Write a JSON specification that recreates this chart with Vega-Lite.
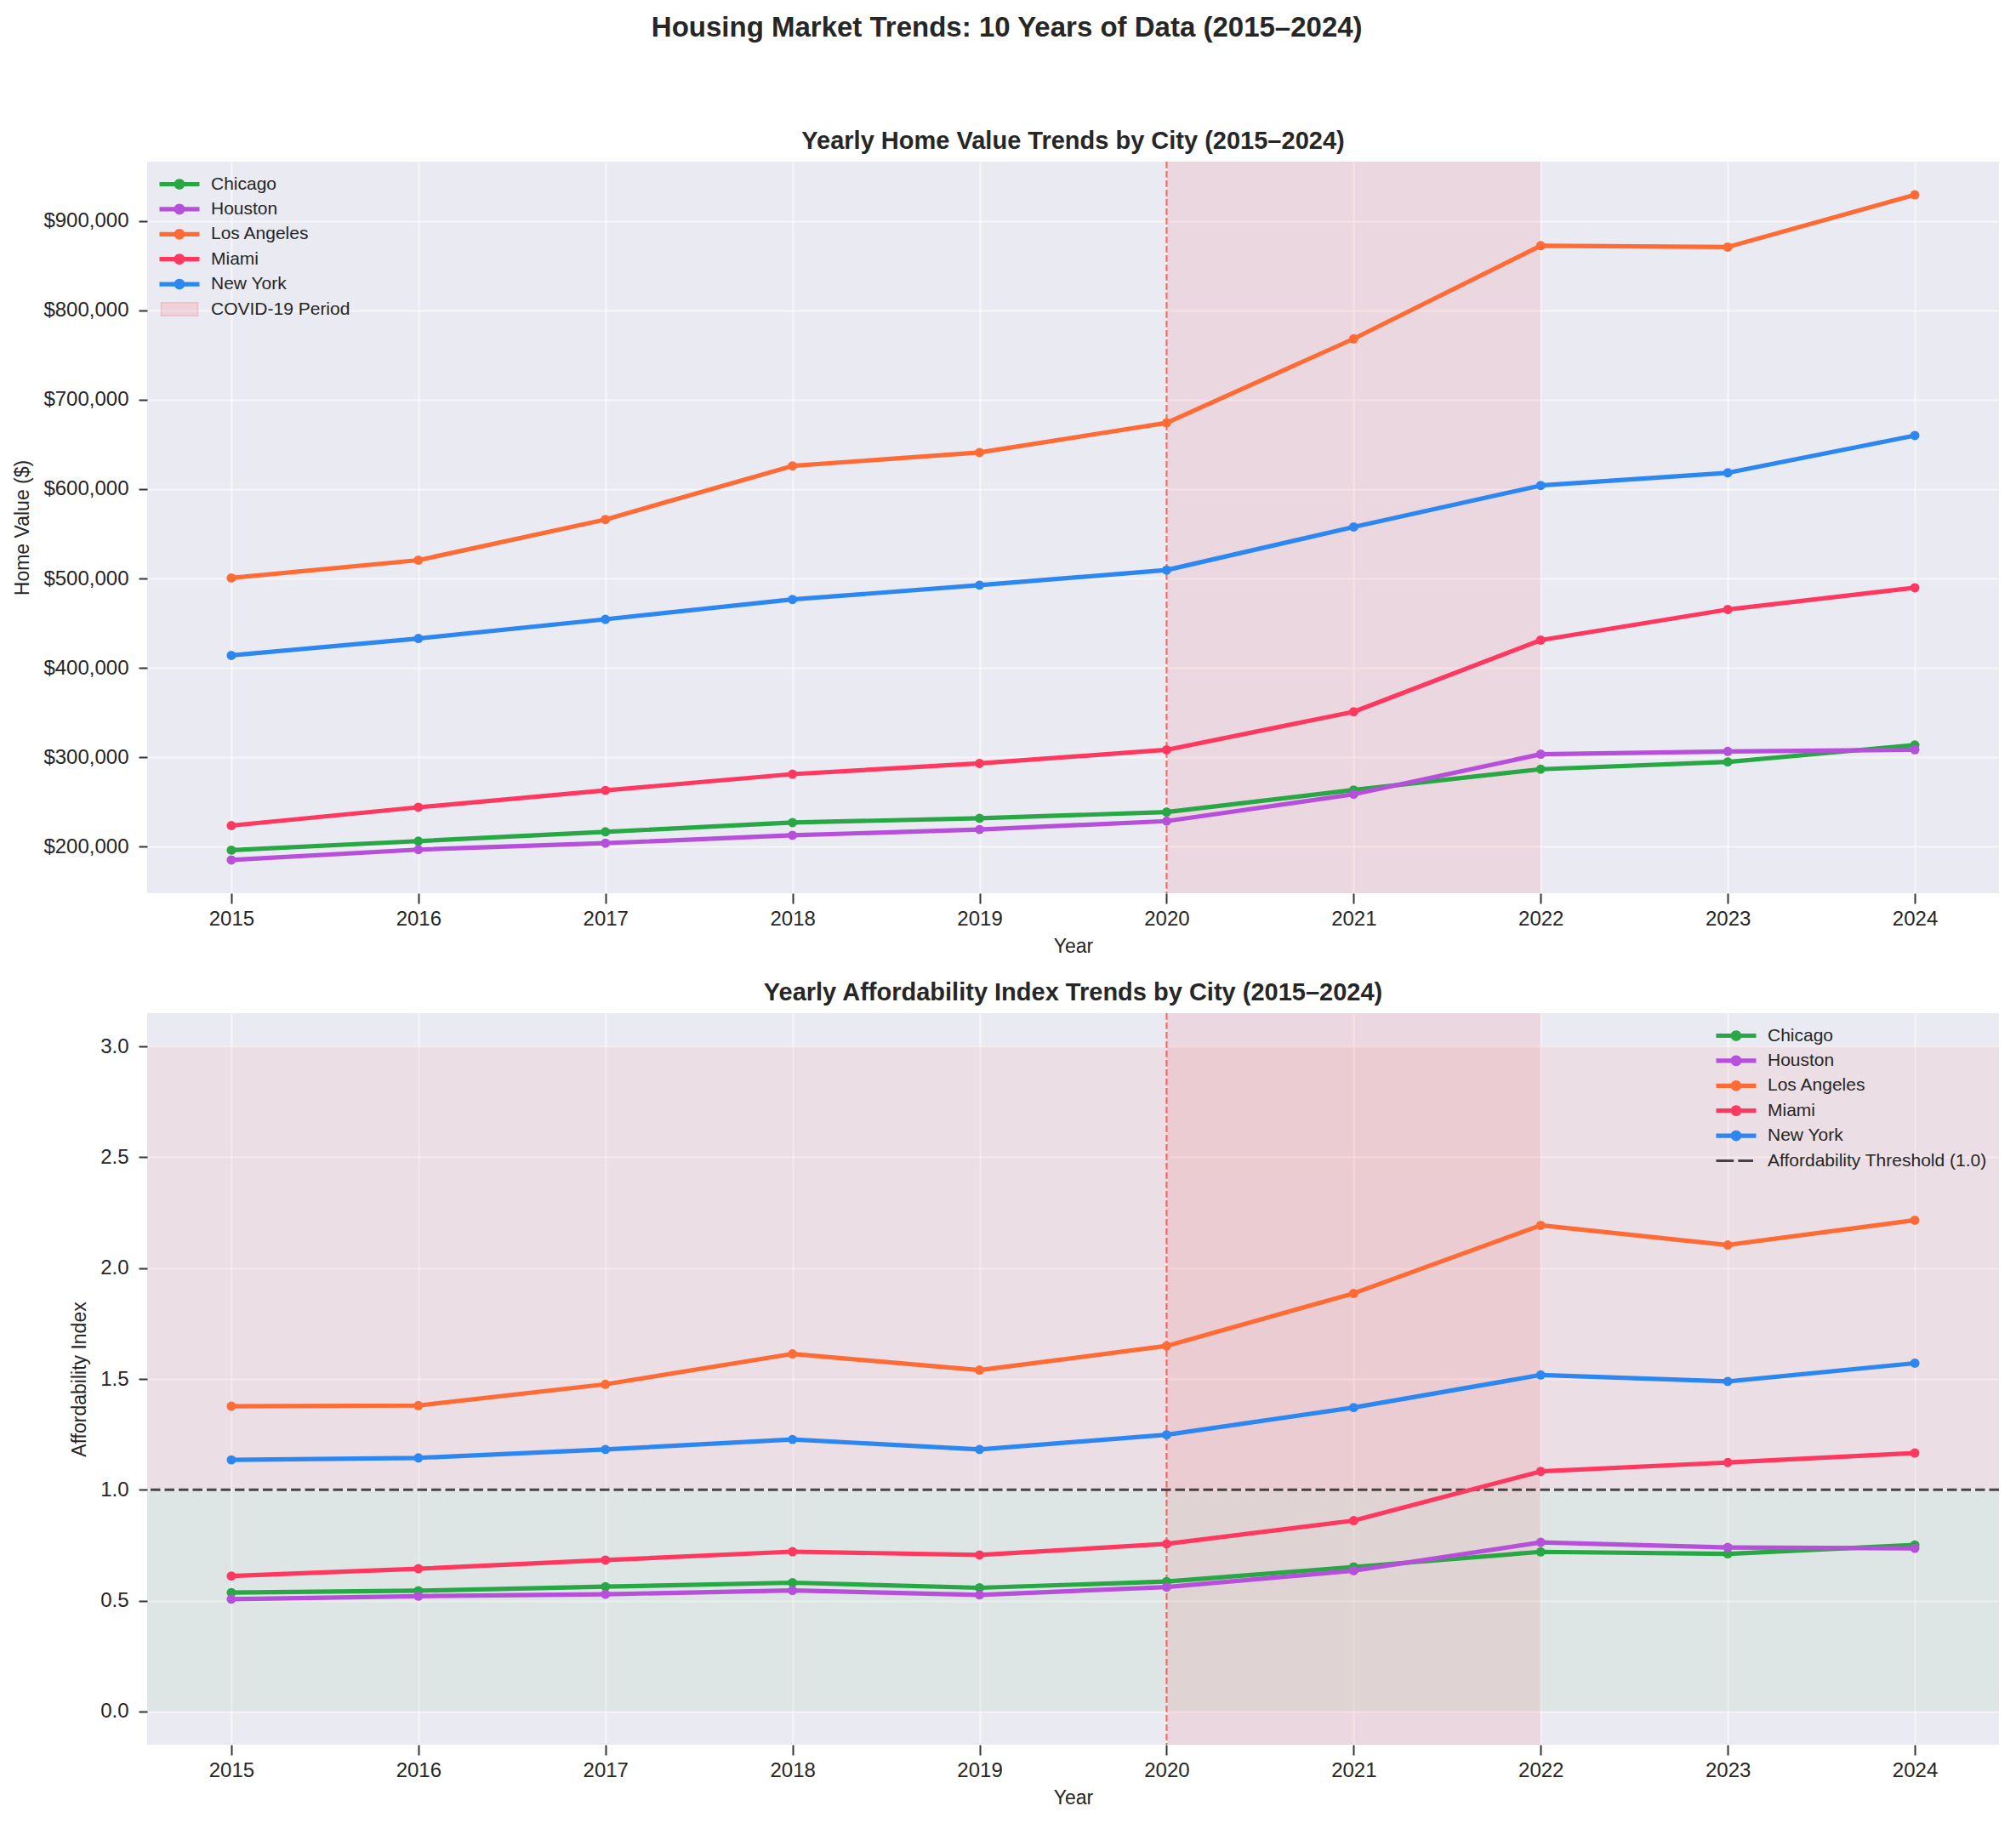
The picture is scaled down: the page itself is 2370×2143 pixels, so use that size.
{
  "$schema": "https://vega.github.io/schema/vega-lite/v6.json",
  "padding": {"left": 15, "top": 17, "right": 18, "bottom": 10},
  "background": "white",
  "title": {"text": "Housing Market Trends: 10 Years of Data (2015–2024)", "fontSize": 33, "fontWeight": "bold", "font": "Liberation Sans", "color": "#262626", "anchor": "middle", "offset": 101.6},
  "config": {
    "font": "Liberation Sans",
    "view": {"fill": "#EAEAF2", "stroke": null},
    "axis": {"domain": false, "gridColor": "#FFFFFF", "gridWidth": 2, "gridOpacity": 0.55, "tickColor": "#333333", "tickWidth": 2, "tickSize": 10, "labelFont": "Liberation Sans", "labelFontSize": 24, "labelColor": "#262626", "titleFont": "Liberation Sans", "titleFontSize": 23, "titleFontWeight": "normal", "titleColor": "#262626"},
    "axisX": {"tickSize": 12, "labelPadding": 6, "titlePadding": 9},
    "axisY": {"labelPadding": 12, "titlePadding": 12},
    "legend": {"labelFont": "Liberation Sans", "labelFontSize": 21, "labelColor": "#262626", "labelLimit": 1000}
  },
  "datasets": {
    "d": [
      {"year": 2015, "city": "Chicago", "value": 195900, "afford": 0.536},
      {"year": 2016, "city": "Chicago", "value": 206000, "afford": 0.545},
      {"year": 2017, "city": "Chicago", "value": 216400, "afford": 0.563},
      {"year": 2018, "city": "Chicago", "value": 226800, "afford": 0.581},
      {"year": 2019, "city": "Chicago", "value": 231600, "afford": 0.558},
      {"year": 2020, "city": "Chicago", "value": 238500, "afford": 0.586},
      {"year": 2021, "city": "Chicago", "value": 263200, "afford": 0.652},
      {"year": 2022, "city": "Chicago", "value": 286500, "afford": 0.720},
      {"year": 2023, "city": "Chicago", "value": 294700, "afford": 0.711},
      {"year": 2024, "city": "Chicago", "value": 313600, "afford": 0.751},
      {"year": 2015, "city": "Houston", "value": 184900, "afford": 0.507},
      {"year": 2016, "city": "Houston", "value": 196500, "afford": 0.520},
      {"year": 2017, "city": "Houston", "value": 203700, "afford": 0.529},
      {"year": 2018, "city": "Houston", "value": 212500, "afford": 0.546},
      {"year": 2019, "city": "Houston", "value": 219000, "afford": 0.526},
      {"year": 2020, "city": "Houston", "value": 228400, "afford": 0.561},
      {"year": 2021, "city": "Houston", "value": 258400, "afford": 0.635},
      {"year": 2022, "city": "Houston", "value": 303300, "afford": 0.763},
      {"year": 2023, "city": "Houston", "value": 306400, "afford": 0.740},
      {"year": 2024, "city": "Houston", "value": 308300, "afford": 0.736},
      {"year": 2015, "city": "Los Angeles", "value": 500600, "afford": 1.377},
      {"year": 2016, "city": "Los Angeles", "value": 520500, "afford": 1.380},
      {"year": 2017, "city": "Los Angeles", "value": 566000, "afford": 1.476},
      {"year": 2018, "city": "Los Angeles", "value": 626000, "afford": 1.613},
      {"year": 2019, "city": "Los Angeles", "value": 641000, "afford": 1.540},
      {"year": 2020, "city": "Los Angeles", "value": 674200, "afford": 1.649},
      {"year": 2021, "city": "Los Angeles", "value": 768300, "afford": 1.886},
      {"year": 2022, "city": "Los Angeles", "value": 872500, "afford": 2.193},
      {"year": 2023, "city": "Los Angeles", "value": 871000, "afford": 2.104},
      {"year": 2024, "city": "Los Angeles", "value": 929400, "afford": 2.216},
      {"year": 2015, "city": "Miami", "value": 223400, "afford": 0.611},
      {"year": 2016, "city": "Miami", "value": 243900, "afford": 0.644},
      {"year": 2017, "city": "Miami", "value": 262800, "afford": 0.683},
      {"year": 2018, "city": "Miami", "value": 281000, "afford": 0.721},
      {"year": 2019, "city": "Miami", "value": 293000, "afford": 0.706},
      {"year": 2020, "city": "Miami", "value": 308200, "afford": 0.756},
      {"year": 2021, "city": "Miami", "value": 350800, "afford": 0.861},
      {"year": 2022, "city": "Miami", "value": 431000, "afford": 1.083},
      {"year": 2023, "city": "Miami", "value": 465300, "afford": 1.123},
      {"year": 2024, "city": "Miami", "value": 489600, "afford": 1.166},
      {"year": 2015, "city": "New York", "value": 413900, "afford": 1.135},
      {"year": 2016, "city": "New York", "value": 432800, "afford": 1.144},
      {"year": 2017, "city": "New York", "value": 454300, "afford": 1.182},
      {"year": 2018, "city": "New York", "value": 476500, "afford": 1.227},
      {"year": 2019, "city": "New York", "value": 492500, "afford": 1.182},
      {"year": 2020, "city": "New York", "value": 509400, "afford": 1.248},
      {"year": 2021, "city": "New York", "value": 557700, "afford": 1.371},
      {"year": 2022, "city": "New York", "value": 604100, "afford": 1.518},
      {"year": 2023, "city": "New York", "value": 618300, "afford": 1.489},
      {"year": 2024, "city": "New York", "value": 660000, "afford": 1.571}
    ]
  },
  "resolve": {"scale": {"color": "independent", "x": "independent", "y": "independent"}, "legend": {"color": "independent"}},
  "spacing": 29,
  "vconcat": [
    {
      "width": 2177,
      "height": 860,
      "title": {"text": "Yearly Home Value Trends by City (2015–2024)", "fontSize": 29, "fontWeight": "bold", "frame": "group", "anchor": "middle", "offset": 8, "color": "#262626"},
      "layer": [
        {
          "data": {"values": [{"start": 2020, "end": 2022, "series": "COVID-19 Period"}]},
          "mark": {"type": "rect", "opacity": 0.08},
          "encoding": {
            "x": {"field": "start", "type": "quantitative", "scale": {"domain": [2014.55, 2024.45], "nice": false, "zero": false}, "axis": {"values": [2015, 2016, 2017, 2018, 2019, 2020, 2021, 2022, 2023, 2024], "format": "d", "title": "Year"}},
            "x2": {"field": "end"},
            "color": {"field": "series", "type": "nominal"}
          }
        },
        {
          "data": {"values": [{"x": 2020}]},
          "mark": {"type": "rule", "color": "#FF0000", "opacity": 0.6, "strokeWidth": 2, "strokeDash": [7.7, 3.3]},
          "encoding": {"x": {"field": "x", "type": "quantitative"}}
        },
        {
          "data": {"name": "d"},
          "mark": {"type": "line", "strokeWidth": 5.2, "strokeJoin": "round"},
          "encoding": {
            "x": {"field": "year", "type": "quantitative"},
            "y": {"field": "value", "type": "quantitative", "scale": {"domain": [147700, 966600], "nice": false, "zero": false}, "axis": {"values": [200000, 300000, 400000, 500000, 600000, 700000, 800000, 900000], "format": "$,.0f", "title": "Home Value ($)"}},
            "color": {
              "field": "city", "type": "nominal",
              "scale": {"domain": ["Chicago", "Houston", "Los Angeles", "Miami", "New York", "COVID-19 Period"], "range": ["#28A745", "#B650DA", "#FF6B35", "#FF3860", "#2D87F0", "#FF0000"]},
              "legend": {
                "title": null, "orient": "top-left", "offset": 14, "padding": 0, "symbolSize": 2209, "labelOffset": 40, "labelFontSize": 21, "labelColor": "#262626", "labelLimit": 1000, "rowPadding": 4.4, "clipHeight": 25,
                "encode": {"symbols": {"update": {
                  "shape": {"signal": "datum.value === 'COVID-19 Period' ? 'M-0.346,-0.33H1.494V0.33H-0.346Z' : (datum.value === 'Affordability Threshold (1.0)' ? 'M-0.426,-0.065H0.454V0.065H-0.426Z M0.674,-0.065H1.424V0.065H0.674Z' : 'M-0.426,-0.11H1.574V0.11H-0.426Z M0.304,0A0.27,0.27 0 1,1 0.844,0A0.27,0.27 0 1,1 0.304,0Z')"},
                  "fill": {"signal": "datum.value === 'Chicago' ? '#28A745' : datum.value === 'Houston' ? '#B650DA' : datum.value === 'Los Angeles' ? '#FF6B35' : datum.value === 'Miami' ? '#FF3860' : datum.value === 'New York' ? '#2D87F0' : datum.value === 'COVID-19 Period' ? '#FF0000' : '#000000'"},
                  "fillOpacity": {"signal": "datum.value === 'COVID-19 Period' ? 0.1 : (datum.value === 'Affordability Threshold (1.0)' ? 0.7 : 1)"},
                  "stroke": {"signal": "datum.value === 'COVID-19 Period' ? '#FF0000' : 'transparent'"},
                  "strokeOpacity": {"signal": "datum.value === 'COVID-19 Period' ? 0.15 : 0"},
                  "strokeWidth": {"signal": "datum.value === 'COVID-19 Period' ? 1.5 : 0"},
                  "strokeDash": {"value": []},
                  "opacity": {"value": 1},
                  "size": {"value": 2209}
                }}}
              }
            }
          }
        },
        {
          "data": {"name": "d"},
          "mark": {"type": "point", "filled": true, "size": 120, "opacity": 1},
          "encoding": {
            "x": {"field": "year", "type": "quantitative"},
            "y": {"field": "value", "type": "quantitative"},
            "color": {"field": "city", "type": "nominal"}
          }
        }
      ]
    },
    {
      "width": 2177,
      "height": 860,
      "title": {"text": "Yearly Affordability Index Trends by City (2015–2024)", "fontSize": 29, "fontWeight": "bold", "frame": "group", "anchor": "middle", "offset": 8, "color": "#262626"},
      "layer": [
        {
          "data": {"values": [{"lo": 0, "hi": 1}]},
          "mark": {"type": "rect", "color": "#008000", "opacity": 0.05},
          "encoding": {
            "y": {"field": "lo", "type": "quantitative", "scale": {"domain": [-0.15, 3.15], "nice": false, "zero": false}, "axis": {"values": [0, 0.5, 1, 1.5, 2, 2.5, 3], "format": ".1f", "title": "Affordability Index"}},
            "y2": {"field": "hi"}
          }
        },
        {
          "data": {"values": [{"lo": 1, "hi": 3}]},
          "mark": {"type": "rect", "color": "#FF0000", "opacity": 0.05},
          "encoding": {
            "y": {"field": "lo", "type": "quantitative"},
            "y2": {"field": "hi"}
          }
        },
        {
          "data": {"values": [{"start": 2020, "end": 2022}]},
          "mark": {"type": "rect", "color": "#FF0000", "opacity": 0.08},
          "encoding": {
            "x": {"field": "start", "type": "quantitative", "scale": {"domain": [2014.55, 2024.45], "nice": false, "zero": false}, "axis": {"values": [2015, 2016, 2017, 2018, 2019, 2020, 2021, 2022, 2023, 2024], "format": "d", "title": "Year"}},
            "x2": {"field": "end"}
          }
        },
        {
          "data": {"values": [{"x": 2020}]},
          "mark": {"type": "rule", "color": "#FF0000", "opacity": 0.6, "strokeWidth": 2, "strokeDash": [7.7, 3.3]},
          "encoding": {"x": {"field": "x", "type": "quantitative"}}
        },
        {
          "data": {"values": [{"y": 1, "series": "Affordability Threshold (1.0)"}]},
          "mark": {"type": "rule", "opacity": 0.7, "strokeWidth": 3, "strokeDash": [11.5, 5]},
          "encoding": {
            "y": {"field": "y", "type": "quantitative"},
            "color": {"field": "series", "type": "nominal"}
          }
        },
        {
          "data": {"name": "d"},
          "mark": {"type": "line", "strokeWidth": 5.2, "strokeJoin": "round"},
          "encoding": {
            "x": {"field": "year", "type": "quantitative"},
            "y": {"field": "afford", "type": "quantitative"},
            "color": {
              "field": "city", "type": "nominal",
              "scale": {"domain": ["Chicago", "Houston", "Los Angeles", "Miami", "New York", "Affordability Threshold (1.0)"], "range": ["#28A745", "#B650DA", "#FF6B35", "#FF3860", "#2D87F0", "#000000"]},
              "legend": {
                "title": null, "orient": "top-right", "offset": 14, "padding": 0, "symbolSize": 2209, "labelOffset": 40, "labelFontSize": 21, "labelColor": "#262626", "labelLimit": 1000, "rowPadding": 4.4, "clipHeight": 25,
                "encode": {"symbols": {"update": {
                  "shape": {"signal": "datum.value === 'COVID-19 Period' ? 'M-0.346,-0.33H1.494V0.33H-0.346Z' : (datum.value === 'Affordability Threshold (1.0)' ? 'M-0.426,-0.065H0.454V0.065H-0.426Z M0.674,-0.065H1.424V0.065H0.674Z' : 'M-0.426,-0.11H1.574V0.11H-0.426Z M0.304,0A0.27,0.27 0 1,1 0.844,0A0.27,0.27 0 1,1 0.304,0Z')"},
                  "fill": {"signal": "datum.value === 'Chicago' ? '#28A745' : datum.value === 'Houston' ? '#B650DA' : datum.value === 'Los Angeles' ? '#FF6B35' : datum.value === 'Miami' ? '#FF3860' : datum.value === 'New York' ? '#2D87F0' : datum.value === 'COVID-19 Period' ? '#FF0000' : '#000000'"},
                  "fillOpacity": {"signal": "datum.value === 'COVID-19 Period' ? 0.1 : (datum.value === 'Affordability Threshold (1.0)' ? 0.7 : 1)"},
                  "stroke": {"signal": "datum.value === 'COVID-19 Period' ? '#FF0000' : 'transparent'"},
                  "strokeOpacity": {"signal": "datum.value === 'COVID-19 Period' ? 0.15 : 0"},
                  "strokeWidth": {"signal": "datum.value === 'COVID-19 Period' ? 1.5 : 0"},
                  "strokeDash": {"value": []},
                  "opacity": {"value": 1},
                  "size": {"value": 2209}
                }}}
              }
            }
          }
        },
        {
          "data": {"name": "d"},
          "mark": {"type": "point", "filled": true, "size": 120, "opacity": 1},
          "encoding": {
            "x": {"field": "year", "type": "quantitative"},
            "y": {"field": "afford", "type": "quantitative"},
            "color": {"field": "city", "type": "nominal"}
          }
        }
      ]
    }
  ]
}
